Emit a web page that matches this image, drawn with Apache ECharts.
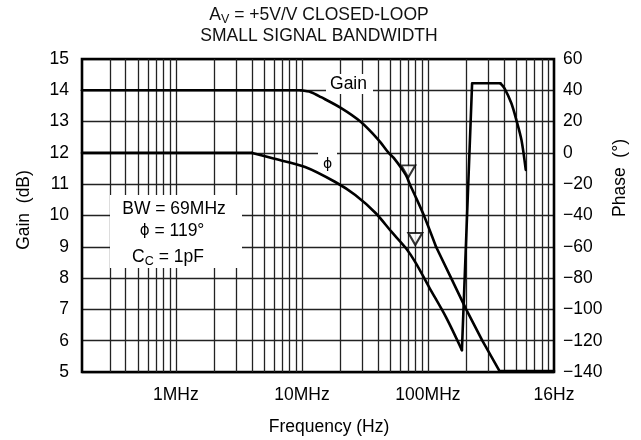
<!DOCTYPE html>
<html><head><meta charset="utf-8">
<script src="https://cdn.jsdelivr.net/npm/echarts@6/dist/echarts.min.js"></script>
<style>html,body{margin:0;padding:0;background:#fff}#c{width:641px;height:440px}</style>
</head><body><div id="c"></div>
<script>
const FONT = "'Liberation Sans', Arial, Helvetica, sans-serif";
const GREEK = "'DejaVu Sans', 'Liberation Sans', sans-serif";
const FS = 17.5;

// Gain curve (left axis, dB) vs frequency (Hz)
const gainFreq = [1.8e5, 9.8e6, 11.8e6, 14.2e6, 20.5e6, 29.1e6, 40.6e6, 48.8e6, 53.5e6, 66.7e6, 71.8e6, 77.3e6, 92.9e6, 115.9e6, 152.8e6, 201e6, 270e6, 370e6, 1e9];
const gainDb   = [14.0, 14.0, 13.94, 13.78, 13.43, 13.0, 12.41, 12.0, 11.84, 11.30, 11.0, 10.72, 10.0, 9.0, 8.0, 7.0, 6.0, 5.03, 5.03];
// segments: flat [0..1], curved roll-off [1..gainCurveEnd], straight tail
const gainCurveEnd = 13;

// Phase curve (right axis, degrees) vs frequency (Hz)
const phaseFreq = [1.8e5, 4.03e6, 5.75e6, 10.6e6, 18.4e6, 26.5e6, 38.4e6, 51.5e6, 66.7e6, 80.2e6, 102e6, 139e6, 186e6, 224e6, 375e6, 405e6, 459e6, 503e6, 552e6, 597e6];
const phaseDeg  = [0, 0, -3.3, -9.0, -18.6, -26.9, -38.4, -50.5, -60.8, -70.4, -85.7, -104.9, -126, 44.5, 44.5, 41.3, 31.7, 21.0, 8.2, -10.9];
// segments: flat [0..1], roll-off [1..12], wrap jump + plateau [12..14], fall [14..]
const phaseRollEnd = 12, phasePlateauEnd = 14;

// Open-triangle markers
const markerGainFreq = [69.8e6];
const markerGainDb = [11.41];
const markerPhaseFreq = [79.4e6];
const markerPhaseDeg = [-55.0];

// Axis ticks
const xTickValues = [1e6, 1e7, 1e8, 1e9];
const xTickLabels = ['1MHz', '10MHz', '100MHz', '16Hz'];
const freqGridLines = [3e5,4e5,5e5,6e5,7e5,8e5,9e5,
  1e6,2e6,3e6,4e6,5e6,6e6,7e6,8e6,9e6,
  1e7,2e7,3e7,4e7,5e7,6e7,7e7,8e7,9e7,
  1e8,2e8,3e8,4e8,5e8,6e8,7e8,8e8,9e8];
const gainMin = 5, gainMax = 15, gainStep = 1;
const phaseMin = -140, phaseMax = 60, phaseStep = 20;
const freqMin = 1.8e5, freqMax = 1e9;

const zip = (a, b) => a.map((v, i) => [v, b[i]]);
const gainPts = zip(gainFreq, gainDb);
const phasePts = zip(phaseFreq, phaseDeg);

const chart = echarts.init(document.getElementById('c'), null, {renderer: 'canvas'});

const txt = (o) => Object.assign({type: 'text', z: 110, silent: true}, o);
const C = {align: 'center', verticalAlign: 'middle', textAlign: 'center', textVerticalAlign: 'middle', fill: '#000'};
const curve = {color: '#000', width: 2.6, cap: 'round', join: 'round'};
const seg = (name, axis, data, smooth) => ({type: 'line', name, z: 10, yAxisIndex: axis, data, symbol: 'none', smooth, lineStyle: curve, silent: true});

chart.setOption({
  animation: false,
  backgroundColor: '#fff',
  textStyle: {fontFamily: FONT},
  grid: {left: 82, right: 87, top: 59, bottom: 68, show: true, borderColor: '#000', borderWidth: 2.6, backgroundColor: 'transparent', z: 5},
  xAxis: {
    type: 'log', logBase: 10, min: freqMin, max: freqMax,
    axisLine: {show: false}, axisTick: {show: false}, splitLine: {show: false}, minorSplitLine: {show: false},
    axisLabel: {
      color: '#000', fontSize: FS, fontFamily: FONT, margin: 14, showMinLabel: true, showMaxLabel: true,
      formatter: function (v) {
        const l = Math.log10(v), e = Math.round(l);
        if (Math.abs(l - e) > 1e-6) return '';
        const i = xTickValues.indexOf(Math.pow(10, e));
        return i >= 0 ? xTickLabels[i] : '';
      }
    }
  },
  yAxis: [
    {type: 'value', min: gainMin, max: gainMax, interval: gainStep, position: 'left',
     axisLine: {show: false}, axisTick: {show: false},
     splitLine: {show: true, lineStyle: {color: '#222', width: 1.3}},
     axisLabel: {color: '#000', fontSize: FS, fontFamily: FONT, margin: 13}},
    {type: 'value', min: phaseMin, max: phaseMax, interval: phaseStep, position: 'right',
     axisLine: {show: false}, axisTick: {show: false}, splitLine: {show: false},
     axisLabel: {color: '#000', fontSize: FS, fontFamily: FONT, margin: 9,
       formatter: v => v < 0 ? '\u2212' + Math.abs(v) : String(v)}}
  ],
  series: [
    {type: 'line', name: 'grid', z: 1, yAxisIndex: 0, data: [[1e6, 10]], symbol: 'none', lineStyle: {opacity: 0}, silent: true,
     markLine: {silent: true, symbol: ['none', 'none'], label: {show: false},
       lineStyle: {color: '#222', width: 1.3, type: 'solid'},
       emphasis: {disabled: true},
       data: freqGridLines.map(v => ({xAxis: v}))}},
    seg('Gain flat', 0, gainPts.slice(0, 2), false),
    seg('Gain', 0, gainPts.slice(1, gainCurveEnd + 1), 0.3),
    seg('Gain tail', 0, gainPts.slice(gainCurveEnd), false),
    seg('Phase flat', 1, phasePts.slice(0, 2), false),
    seg('Phase', 1, phasePts.slice(1, phaseRollEnd + 1), 0.3),
    seg('Phase wrap', 1, phasePts.slice(phaseRollEnd, phasePlateauEnd + 1), false),
    seg('Phase fall', 1, phasePts.slice(phasePlateauEnd), 0.3),
    {type: 'scatter', z: 12, yAxisIndex: 0, data: zip(markerGainFreq, markerGainDb), symbol: 'triangle', symbolRotate: 180, symbolSize: [14, 12],
     itemStyle: {color: '#fff', borderColor: '#000', borderWidth: 2}},
    {type: 'scatter', z: 12, yAxisIndex: 1, data: zip(markerPhaseFreq, markerPhaseDeg), symbol: 'triangle', symbolRotate: 180, symbolSize: [14, 12],
     itemStyle: {color: '#fff', borderColor: '#000', borderWidth: 2}}
  ],
  graphic: [
    {type: 'rect', z: 100, silent: true, shape: {x: 110, y: 195, width: 132, height: 73}, style: {fill: '#fff'}},
    {type: 'rect', z: 100, silent: true, shape: {x: 326, y: 74, width: 47, height: 20}, style: {fill: '#fff'}},
    {type: 'rect', z: 100, silent: true, shape: {x: 318, y: 148, width: 19, height: 22}, style: {fill: '#fff'}},
    // title
    txt({x: 319, y: 15, style: Object.assign({}, C, {text: '{n|A}{s|V}{n| = +5V/V CLOSED-LOOP}', fill: '#111',
      rich: {n: {fontSize: FS, fontFamily: FONT, lineHeight: 22, verticalAlign: 'middle', fill: '#111'}, s: {fontSize: 12.5, fontFamily: FONT, lineHeight: 12, verticalAlign: 'bottom', fill: '#111'}}})}),
    txt({x: 319, y: 36, style: Object.assign({}, C, {text: 'SMALL SIGNAL BANDWIDTH', fill: '#111', fontSize: FS, fontFamily: FONT})}),
    // annotation box
    txt({x: 174, y: 209, style: Object.assign({}, C, {text: 'BW = 69MHz', fontSize: FS, fontFamily: FONT})}),
    txt({x: 172, y: 231, style: Object.assign({}, C, {text: '{g|\u03d5}{n| = 119\u00b0}',
      rich: {g: {fontSize: 15, fontFamily: GREEK, lineHeight: 22, verticalAlign: 'middle', fill: '#000'}, n: {fontSize: FS, fontFamily: FONT, lineHeight: 22, verticalAlign: 'middle', fill: '#000'}}})}),
    txt({x: 168, y: 257, style: Object.assign({}, C, {text: '{n|C}{s|C}{n| = 1pF}',
      rich: {n: {fontSize: FS, fontFamily: FONT, lineHeight: 22, verticalAlign: 'middle', fill: '#000'}, s: {fontSize: 12.5, fontFamily: FONT, lineHeight: 12, verticalAlign: 'bottom', fill: '#000'}}})}),
    // curve labels
    txt({x: 348.5, y: 84, style: Object.assign({}, C, {text: 'Gain', fontSize: FS, fontFamily: FONT})}),
    txt({x: 327.5, y: 164, style: Object.assign({}, C, {text: '\u03d5', fontSize: 14, fontFamily: GREEK})}),
    // axis names
    txt({x: 24, y: 210, rotation: Math.PI / 2, style: Object.assign({}, C, {text: 'Gain  (dB)', fontSize: FS, fontFamily: FONT})}),
    txt({x: 620, y: 178, rotation: Math.PI / 2, style: Object.assign({}, C, {text: 'Phase  (\u00b0)', fontSize: FS, fontFamily: FONT})}),
    txt({x: 329, y: 427, style: Object.assign({}, C, {text: 'Frequency (Hz)', fontSize: FS, fontFamily: FONT})})
  ]
});
</script>
</body></html>
